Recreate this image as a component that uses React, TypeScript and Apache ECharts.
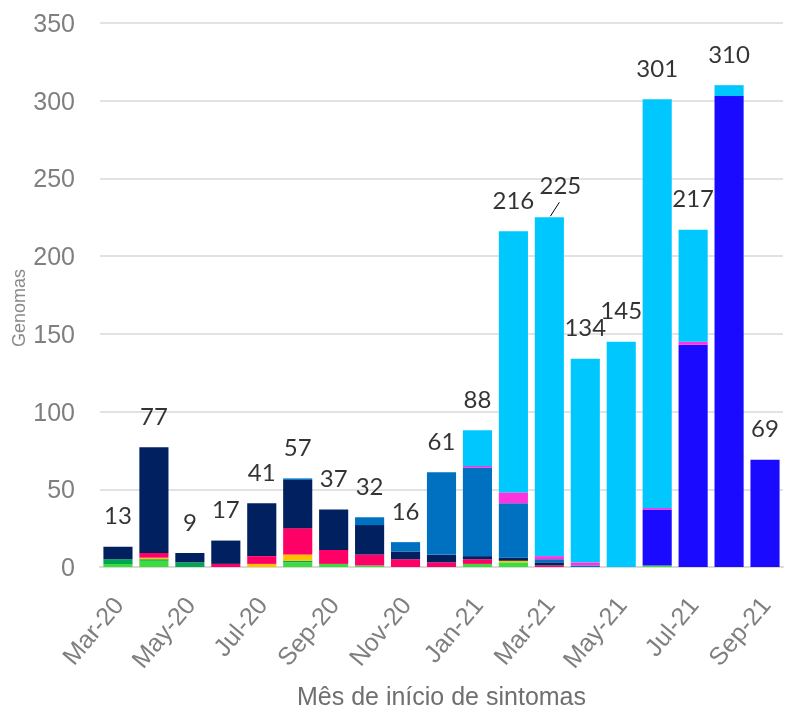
import React, { useEffect, useRef } from "react";
import * as echarts from "echarts";

const months = [
  "Mar-20", "Apr-20", "May-20", "Jun-20", "Jul-20", "Aug-20", "Sep-20", "Oct-20", "Nov-20", "Dec-20",
  "Jan-21", "Feb-21", "Mar-21", "Apr-21", "May-21", "Jun-21", "Jul-21", "Aug-21", "Sep-21",
];

const lightGreen = [2, 4, 0, 0, 0, 3, 2, 1, 0, 0, 2, 3, 0, 0, 0, 1, 0, 0, 0];
const darkGreen = [3, 1, 3, 0, 0, 1, 0, 0, 0, 0, 0, 0, 0, 0, 0, 0, 0, 0, 0];
const yellow = [0, 1, 0, 0, 2, 4, 0, 0, 0, 0, 0, 1, 0, 0, 0, 0, 0, 0, 0];
const pink = [0, 3, 0, 2, 5, 17, 9, 7, 5, 3, 3, 0, 1, 0, 0, 0, 0, 0, 0];
const navy = [8, 68, 6, 15, 34, 31, 26, 19, 5, 5, 2, 2, 2, 0, 0, 0, 0, 0, 0];
const blue = [0, 0, 0, 0, 0, 1, 0, 5, 6, 53, 57, 35, 2, 1, 0, 0, 0, 0, 0];
const brightBlue = [0, 0, 0, 0, 0, 0, 0, 0, 0, 0, 0, 0, 0, 0, 0, 36, 143, 303, 69];
const magenta = [0, 0, 0, 0, 0, 0, 0, 0, 0, 0, 1, 7, 2, 2, 0, 1, 2, 0, 0];
const cyan = [0, 0, 0, 0, 0, 0, 0, 0, 0, 0, 23, 168, 218, 131, 145, 263, 72, 7, 0];

const yTicks = [0, 50, 100, 150, 200, 250, 300, 350];

const layers = [
  { name: "Linhagem A", data: lightGreen, color: "#3ddc3d" },
  { name: "Linhagem B", data: darkGreen, color: "#00a651" },
  { name: "Linhagem C", data: yellow, color: "#ffc000" },
  { name: "Linhagem D", data: pink, color: "#ff0066" },
  { name: "Linhagem E", data: navy, color: "#002060" },
  { name: "Linhagem F", data: blue, color: "#0070c0" },
  { name: "Linhagem G", data: brightBlue, color: "#1a0aff" },
  { name: "Linhagem H", data: magenta, color: "#ff33dd" },
  { name: "Linhagem I", data: cyan, color: "#00c8ff" },
];

const AX_FONT = "Arial, 'Liberation Sans', sans-serif";

export default function App() {
  const ref = useRef<HTMLDivElement>(null);
  useEffect(() => {
    const chart = echarts.init(ref.current!, null, { renderer: "svg" });
    const totals = months.map((_, i) => layers.reduce((s, l) => s + l.data[i], 0));
    const labelShiftIdx = 12;
    const option: any = {
      animation: false,
      grid: { left: 100, right: 2, top: 23, height: 553, containLabel: false },
      xAxis: {
        type: "category",
        data: months,
        axisLine: { show: true, lineStyle: { color: "#d9d9d9", width: 2 } },
        axisTick: { show: false },
        axisLabel: {
          interval: 1,
          rotate: 50,
          margin: 33,
          color: "#7f7f7f",
          fontSize: 25,
          fontFamily: AX_FONT,
        },
        name: "Mês de início de sintomas",
        nameLocation: "middle",
        nameGap: 116,
        nameTextStyle: { color: "#6f6f6f", fontSize: 25, fontFamily: AX_FONT },
      },
      yAxis: {
        type: "value",
        min: yTicks[0],
        max: yTicks[yTicks.length - 1],
        interval: 50,
        axisLine: { show: false },
        axisTick: { show: false },
        splitLine: { lineStyle: { color: "#d9d9d9", width: 1.5 } },
        axisLabel: {
          margin: 25,
          color: "#7f7f7f",
          fontSize: 25,
          fontFamily: AX_FONT,
        },
      },
      series: [
        ...layers.map((l) => ({
          name: l.name,
          type: "bar",
          stack: "total",
          data: l.data,
          barCategoryGap: "19%",
          itemStyle: { color: l.color },
        })),
        {
          name: "Total",
          type: "scatter",
          symbolSize: 1,
          itemStyle: { color: "rgba(0,0,0,0)" },
          z: 10,
          data: totals.map((v, i) => ({
            value: v,
            label: { offset: i === labelShiftIdx ? [11, -33] : [0, -32] },
          })),
          label: {
            show: true,
            position: "inside",
            color: "#000",
            fontSize: 24,
            fontFamily: "Lato",
            formatter: (p: any) => String(p.value),
          },
        },
      ],
    };
    chart.setOption(option);
    const p = chart.convertToPixel({ gridIndex: 0 }, [months[labelShiftIdx], totals[labelShiftIdx]]) as number[];
    chart.setOption({
      graphic: [
        {
          type: "text",
          x: 19,
          y: 308,
          rotation: Math.PI / 2,
          style: {
            text: "Genomas",
            fill: "#8a8a8a",
            fontSize: 18,
            fontFamily: AX_FONT,
            align: "center",
            verticalAlign: "middle",
          },
        },
        {
          type: "line",
          shape: { x1: p[0] + 1, y1: p[1] - 1, x2: p[0] + 10, y2: p[1] - 15 },
          style: { stroke: "#000", lineWidth: 1 },
          z: 20,
        },
      ],
    });
    return () => chart.dispose();
  }, []);
  return <div ref={ref} style={{ position: "fixed", left: 0, top: 0, width: 785, height: 713 }} />;
}
